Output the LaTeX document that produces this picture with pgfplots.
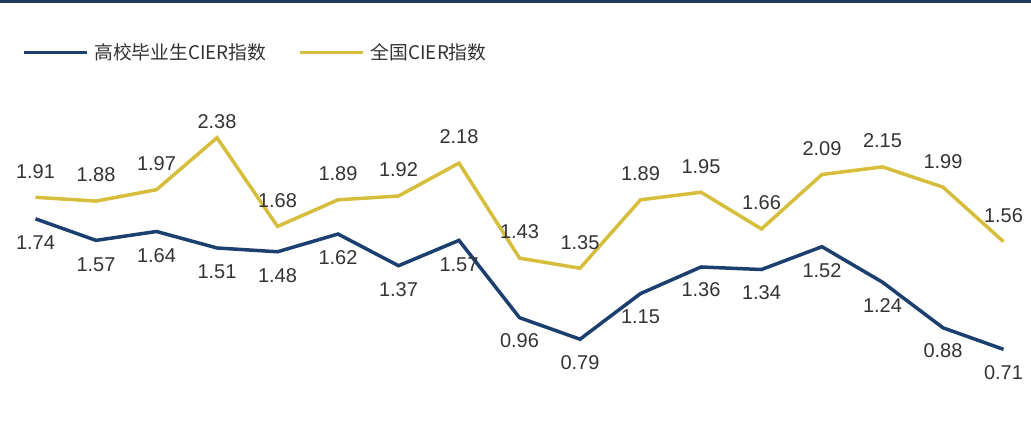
\documentclass[border=0pt]{standalone}
\usepackage{pgfplots}
\pgfplotsset{compat=1.18}
\usepackage{pgfplotstable}
\usepackage{fontspec}
\setmainfont{Liberation Sans}
\newfontfamily\cjk{Noto Sans CJK SC}
\definecolor{cblue}{HTML}{1B3F6E}
\definecolor{cyel}{HTML}{D6BE3C}
\definecolor{ctop}{HTML}{1F3A5A}
\definecolor{ctext}{HTML}{333333}
\pgfplotstableread{
x y dy
0 1.91 26
1 1.88 26
2 1.97 26
3 2.38 16
4 1.68 26
5 1.89 26
6 1.92 26
7 2.18 26
8 1.43 26
9 1.35 26
10 1.89 26
11 1.95 26
12 1.66 26
13 2.09 26
14 2.15 26
15 1.99 26
16 1.56 26
}\national
\pgfplotstableread{
x y dy
0 1.74 -24
1 1.57 -24
2 1.64 -24
3 1.51 -24
4 1.48 -24
5 1.62 -24
6 1.37 -24
7 1.57 -24
8 0.96 -23
9 0.79 -23
10 1.15 -23
11 1.36 -23
12 1.34 -23
13 1.52 -24
14 1.24 -23
15 0.88 -23
16 0.71 -23
}\grads
\begin{document}
\begin{tikzpicture}
\begin{axis}[
  scale only axis,
  width=1031pt, height=438pt,
  xmin=-0.587, xmax=16.455,
  ymin=0.010, ymax=3.467,
  axis lines=none,
  ticks=none,
  clip=false,
  nodes near coords,
  point meta=explicit symbolic,
  visualization depends on={\thisrow{dy} \as \dy},
  every node near coord/.append style={anchor=center, yshift=\dy pt, font=\fontsize{20}{24}\selectfont, text=ctext, inner sep=0pt},
  legend style={at={(rel axis cs:0.018,0.88)}, anchor=west, draw=none, fill=none, legend columns=2,
    font=\cjk\fontsize{18.8}{22}\selectfont, text=ctext,
    /tikz/every odd column/.append style={column sep=4pt},
    /tikz/every even column/.append style={column sep=30pt}},
  legend image code/.code={\draw[#1, line width=3.5pt] (0pt,0pt) -- (63pt,0pt);},
]
\path (rel axis cs:0,0) rectangle (rel axis cs:1,1);
\fill[ctop] (rel axis cs:0,1) rectangle (rel axis cs:1,0.993);
\addplot[cblue, line width=3.5pt, mark=none] table[x=x, y=y, meta=y] {\grads};
\addlegendentry{高校毕业生CIER指数}
\addplot[cyel, line width=3.5pt, mark=none] table[x=x, y=y, meta=y] {\national};
\addlegendentry{全国CIER指数}
\end{axis}
\end{tikzpicture}
\end{document}
